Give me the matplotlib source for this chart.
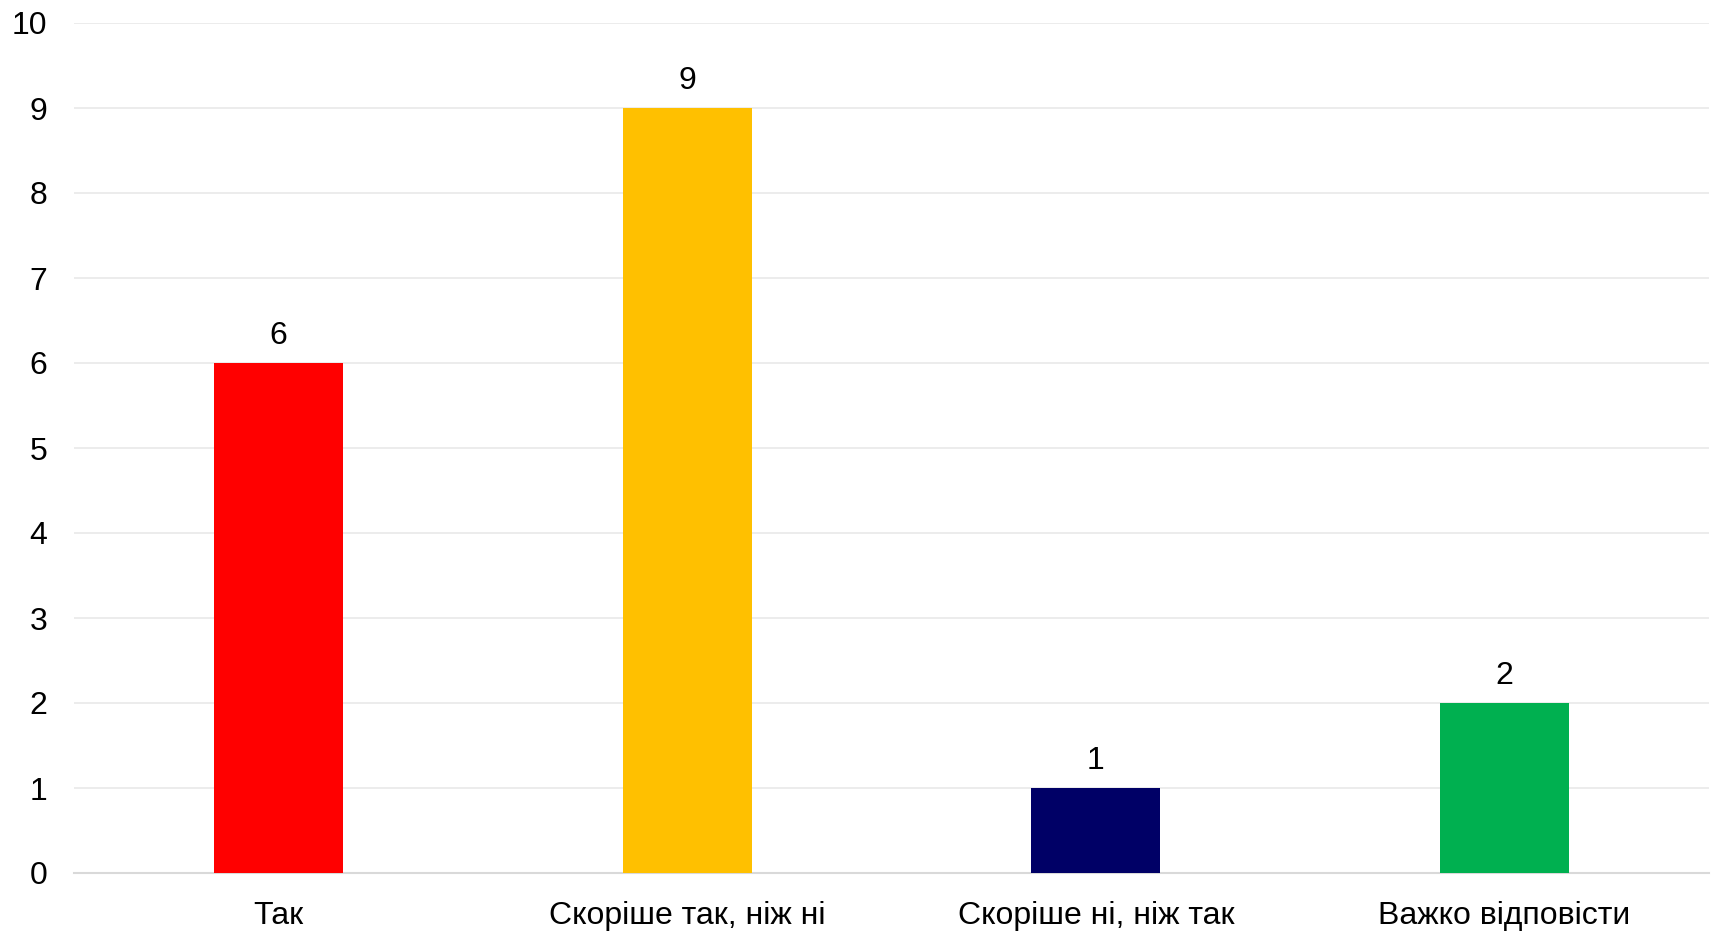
import matplotlib
matplotlib.use("Agg")
import matplotlib.pyplot as plt

categories = ["Так", "Скоріше так, ніж ні", "Скоріше ні, ніж так", "Важко відповісти"]
values = [6, 9, 1, 2]
colors = ["#FF0000", "#FFC000", "#000066", "#00B050"]
yticks = list(range(0, 11))

plt.rcParams['font.family'] = ['Liberation Sans', 'DejaVu Sans']

fig = plt.figure(figsize=(17.14, 9.31), dpi=100)
ax = fig.add_axes([74/1714, 1 - 873/931, (1709-74)/1714, (873-23)/931])

FS = 23
x = list(range(len(categories)))
bars = ax.bar(x, values, width=0.315, color=colors, zorder=3)
ax.set_xlim(-0.5, len(categories) - 0.5)
ax.set_ylim(0, 10)
ax.set_yticks(yticks)
ax.set_yticklabels([str(t) for t in yticks], fontsize=FS)
ax.set_xticks(x)
ax.set_xticklabels(categories, fontsize=FS)
ax.tick_params(axis='y', length=0, pad=19)
ax.tick_params(axis='x', length=0, pad=20)
for s in ['top', 'right', 'left']:
    ax.spines[s].set_visible(False)
ax.spines['bottom'].set_color('#d9d9d9')
ax.spines['bottom'].set_linewidth(1.5)
ax.grid(axis='y', color='#ebebeb', linewidth=1.3, zorder=0)
ax.set_axisbelow(True)

for b, v in zip(bars, values):
    ax.annotate(str(v), (b.get_x() + b.get_width()/2, v), xytext=(0, 8.5),
                textcoords='offset points', ha='center', va='bottom', fontsize=FS)

fig.savefig("out.png", dpi=100, facecolor='white')
